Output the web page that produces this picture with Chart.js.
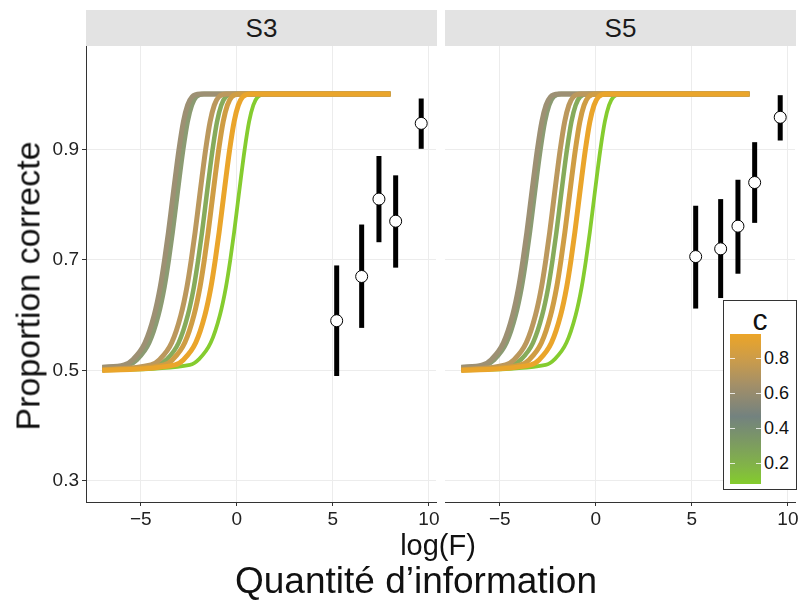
<!DOCTYPE html>
<html>
<head>
<meta charset="utf-8">
<script src="https://cdn.jsdelivr.net/npm/chart.js@4.4.1/dist/chart.umd.min.js"></script>
<style>
  body { margin: 0; background: #fff; font-family: "Liberation Sans", Arial, sans-serif; }
  #wrap { position: relative; width: 800px; height: 603px; overflow: hidden; }
  canvas { position: absolute; }
  .strip { position: absolute; top: 10px; height: 36px; background: #e3e3e3; font-size: 26px;
           line-height: 37px; text-align: center; color: #1a1a1a; }
  .lbl { position: absolute; white-space: nowrap; color: #111; transform: translate(-50%, -50%); }
  #legend { position: absolute; left: 723px; top: 300px; width: 72px; height: 188px;
            border: 1px solid #333; background: #fff; }
  #bar { position: absolute; left: 6px; top: 33px; width: 31px; height: 150px;
         background: linear-gradient(to bottom, #eca528 0%, #c99b4c 18%, #a38f68 34%, #73827f 55%,
                                     #7c9a62 72%, #82b447 88%, #84cc2c 100%); }
  .tk { position: absolute; width: 5px; height: 1px; background: rgba(255,255,255,0.8); }
  .lv { position: absolute; left: 40px; font-size: 18px; color: #111; transform: translateY(-50%); }
</style>
</head>
<body>
<div id="wrap">
  <div class="strip" style="left:86px;width:351px;">S3</div>
  <div class="strip" style="left:445px;width:351px;">S5</div>
  <canvas id="c3" width="441" height="489" style="left:0;top:46px;"></canvas>
  <canvas id="c5" width="360" height="489" style="left:440px;top:46px;"></canvas>
  <div class="lbl" style="left:28px;top:286px;font-size:34px;transform:translate(-50%,-50%) rotate(-90deg);">Proportion correcte</div>
  <div class="lbl" style="left:438px;top:545px;font-size:29px;">log(F)</div>
  <div class="lbl" style="left:416px;top:581px;font-size:37px;">Quantité d’information</div>
  <div id="legend">
    <div style="position:absolute;left:0;width:72px;top:4px;text-align:center;font-size:30px;line-height:30px;color:#111;">c</div>
    <div id="bar"></div>
  </div>
</div>
<script>
// shared y levels at which each fitted curve's x position was read
const levels = [0.51, 0.52, 0.55, 0.6, 0.65, 0.7, 0.75, 0.8, 0.85, 0.9, 0.95, 0.98, 0.995, 1.0];

// S3 curves: x where each curve crosses the levels above
const s3Gray1     = [-5.86, -5.40, -4.78, -4.30, -3.99, -3.76, -3.56, -3.38, -3.20, -3.01, -2.78, -2.56, -2.33, -1.92];
const s3Gray2     = [-5.65, -5.19, -4.57, -4.09, -3.78, -3.55, -3.35, -3.17, -2.99, -2.80, -2.57, -2.35, -2.12, -1.71];
const s3Tan       = [-4.47, -4.01, -3.39, -2.91, -2.60, -2.37, -2.17, -1.99, -1.81, -1.62, -1.39, -1.17, -0.94, -0.53];
const s3Green     = [-4.11, -3.65, -3.03, -2.55, -2.24, -2.01, -1.81, -1.63, -1.45, -1.26, -1.03, -0.81, -0.58, -0.17];
const s3TanOrange = [-3.79, -3.33, -2.71, -2.23, -1.92, -1.69, -1.49, -1.31, -1.13, -0.94, -0.71, -0.49, -0.26, 0.15];
const s3Orange    = [-3.22, -2.76, -2.14, -1.66, -1.35, -1.12, -0.92, -0.74, -0.56, -0.37, -0.14, 0.08, 0.31, 0.72];
const s3Lime      = [-2.44, -1.98, -1.36, -0.88, -0.57, -0.34, -0.14, 0.04, 0.22, 0.41, 0.64, 0.86, 1.09, 1.50];

// S5 curves
const s5Gray1     = [-5.89, -5.43, -4.81, -4.33, -4.02, -3.79, -3.59, -3.41, -3.23, -3.04, -2.81, -2.59, -2.36, -1.95];
const s5Gray2     = [-5.74, -5.28, -4.66, -4.18, -3.87, -3.64, -3.44, -3.26, -3.08, -2.89, -2.66, -2.44, -2.21, -1.80];
const s5Tan       = [-4.70, -4.24, -3.62, -3.14, -2.83, -2.60, -2.40, -2.22, -2.04, -1.85, -1.62, -1.40, -1.17, -0.76];
const s5Green     = [-4.35, -3.89, -3.27, -2.79, -2.48, -2.25, -2.05, -1.87, -1.69, -1.50, -1.27, -1.05, -0.82, -0.41];
const s5TanOrange = [-3.91, -3.45, -2.83, -2.35, -2.04, -1.81, -1.61, -1.43, -1.25, -1.06, -0.83, -0.61, -0.38, 0.03];
const s5Orange    = [-3.39, -2.93, -2.31, -1.83, -1.52, -1.29, -1.09, -0.91, -0.73, -0.54, -0.31, -0.09, 0.14, 0.55];
const s5Lime      = [-2.61, -2.15, -1.53, -1.05, -0.74, -0.51, -0.31, -0.13, 0.05, 0.24, 0.47, 0.69, 0.92, 1.33];

// curve value at x = -7, and curve end
const curveStartX = -7;
const curveEndX = 8;
const curveStartY = [0.5, 0.501, 0.502, 0.506, 0.505, 0.501, 0.5]; // orange, tanOrange, tan, gray1, gray2, green, lime
const curveColors = ["#eaa52b", "#cf9d44", "#bb985d", "#9d9073", "#8b9b72", "#86ab5b", "#85cc2f"];
const curveWidths = [5, 5, 5, 5, 5, 4.5, 3.8];

// observed proportions with intervals
const obsX = [5.2, 6.5, 7.4, 8.27, 9.6];
const s3Y  = [0.590, 0.670, 0.810, 0.770, 0.947];
const s3Lo = [0.490, 0.577, 0.732, 0.686, 0.901];
const s3Hi = [0.690, 0.764, 0.888, 0.853, 0.992];
const s5Y  = [0.706, 0.720, 0.761, 0.840, 0.958];
const s5Lo = [0.612, 0.631, 0.675, 0.767, 0.916];
const s5Hi = [0.798, 0.810, 0.845, 0.913, 0.998];

const xTicks = [-5, 0, 5, 10];
const yTicks = [0.3, 0.5, 0.7, 0.9];
const legendTicks = [0.2, 0.4, 0.6, 0.8];

function curvePoints(cross, startY) {
  const pts = [{ x: curveStartX, y: startY }];
  cross.forEach((cx, i) => { if (cx > curveStartX) pts.push({ x: cx, y: levels[i] }); });
  pts.push({ x: curveEndX, y: 1.0 });
  return pts;
}

const errBars = {
  id: "errBars",
  beforeDatasetsDraw(chart, args, opts) {
    const { ctx, scales: { x, y } } = chart;
    ctx.save();
    ctx.strokeStyle = "#000";
    ctx.lineWidth = 5;
    opts.xs.forEach((v, i) => {
      const px = x.getPixelForValue(v);
      ctx.beginPath();
      ctx.moveTo(px, y.getPixelForValue(opts.lo[i]));
      ctx.lineTo(px, y.getPixelForValue(opts.hi[i]));
      ctx.stroke();
    });
    ctx.restore();
  }
};

function noPad(s) {
  s.paddingTop = 0; s.paddingBottom = 0; s.paddingLeft = 0; s.paddingRight = 0;
}

function makeChart(id, curves, ys, lo, hi, left) {
  const datasets = [{
    data: obsX.map((v, i) => ({ x: v, y: ys[i] })),
    showLine: false, pointRadius: 6, pointBackgroundColor: "#fff",
    pointBorderColor: "#000", pointBorderWidth: 1
  }];
  curves.forEach((c, i) => datasets.push({
    data: curvePoints(c, curveStartY[i]),
    showLine: true, pointRadius: 0, borderColor: curveColors[i],
    borderWidth: curveWidths[i], cubicInterpolationMode: "monotone", borderCapStyle: "butt"
  }));

  new Chart(document.getElementById(id), {
    type: "scatter",
    data: { datasets },
    plugins: [errBars],
    options: {
      responsive: false, animation: false, devicePixelRatio: 1,
      layout: { autoPadding: false, padding: { left: left ? 0 : 5, right: 5, top: 0, bottom: 0 } },
      plugins: { legend: { display: false }, tooltip: { enabled: false },
                 errBars: { xs: obsX, lo, hi } },
      scales: {
        x: {
          min: -7.85, max: 10.37,
          afterBuildTicks: s => { s.ticks = xTicks.map(v => ({ value: v })); },
          afterFit: s => { s.height = 33; noPad(s); },
          ticks: { color: "#222", font: { family: "Liberation Sans", size: 19 }, padding: 2,
                   maxRotation: 0, callback: v => v < 0 ? "\u2212" + Math.abs(v) : String(v) },
          grid: { color: "#ececec", tickColor: "#333", tickLength: 4 },
          border: { display: true, color: "#333", width: 1 }
        },
        y: {
          min: 0.262, max: 1.087,
          afterBuildTicks: s => { s.ticks = yTicks.map(v => ({ value: v })); },
          afterFit: s => { s.width = left ? 86 : 0; noPad(s); },
          ticks: { display: left, color: "#222", font: { family: "Liberation Sans", size: 19 },
                   padding: 3, callback: v => v.toFixed(1) },
          grid: { color: "#ececec", tickColor: "#333", tickLength: 4, drawTicks: left },
          border: { display: left, color: "#333", width: 1 }
        }
      }
    }
  });
}

makeChart("c3", [s3Orange, s3TanOrange, s3Tan, s3Gray1, s3Gray2, s3Green, s3Lime], s3Y, s3Lo, s3Hi, true);
makeChart("c5", [s5Orange, s5TanOrange, s5Tan, s5Gray1, s5Gray2, s5Green, s5Lime], s5Y, s5Lo, s5Hi, false);

// colour bar ticks and labels
const bar = document.getElementById("bar");
const legend = document.getElementById("legend");
const barTop = 0.937, barBottom = 0.08;
legendTicks.forEach(v => {
  const py = (barTop - v) / (barTop - barBottom) * 150;
  ["0px", "26px"].forEach(lx => {
    const t = document.createElement("div");
    t.className = "tk"; t.style.left = lx; t.style.top = py + "px";
    bar.appendChild(t);
  });
  const l = document.createElement("div");
  l.className = "lv"; l.style.top = (33 + py) + "px"; l.textContent = v.toFixed(1);
  legend.appendChild(l);
});
</script>
</body>
</html>
